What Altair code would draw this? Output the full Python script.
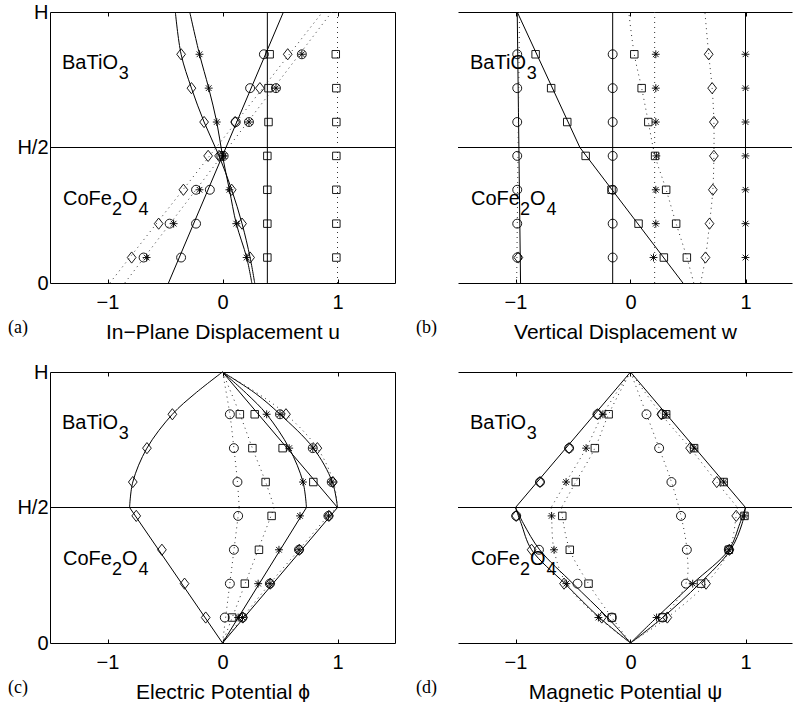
import altair as alt
import pandas as pd

FONT = "Liberation Sans"
SERIF = "Liberation Serif"
PH = 271            # plot height of every panel
UNIT = 115          # pixels per unit on x
ROWS = [0.094, 0.219, 0.344, 0.469, 0.594, 0.719, 0.844]

# ---------------- panel (a): in-plane displacement u
A_SOLID = [
    [(-0.47, 0.0), (0.53, 1.0)],
    [(0.28, 0.0), (0.24, 0.094), (0.17, 0.219), (0.08, 0.344), (-0.03, 0.469), (-0.16, 0.594), (-0.27, 0.719), (-0.36, 0.844), (-0.41, 1.0)],
    [(0.255, 0.0), (0.21, 0.094), (0.12, 0.219), (0.06, 0.344), (0.0, 0.469), (-0.05, 0.594), (-0.12, 0.719), (-0.2, 0.844), (-0.285, 1.0)],
    [(0.39, 0.0), (0.39, 1.0)],
]
A_DOTTED = [
    [(-0.85, 0.0), (0.95, 1.0)],
    [(-0.98, 0.0), (0.87, 1.0)],
    [(1.0, 0.0), (1.0, 1.0)],
]
A_CIRCLE = [[-0.36, -0.23, -0.11, -0.01, 0.115, 0.24, 0.36],
            [-0.686, -0.46, -0.23, 0.01, 0.23, 0.465, 0.69]]
A_STAR = [[0.21, 0.12, 0.06, 0.0, -0.05, -0.12, -0.2],
          [-0.66, -0.425, -0.20, 0.01, 0.23, 0.465, 0.69]]
A_DIAMOND = [[0.24, 0.17, 0.08, -0.03, -0.16, -0.27, -0.36],
             [-0.79, -0.555, -0.34, -0.125, 0.11, 0.325, 0.567]]
A_SQUARE = [[0.39, 0.39, 0.39, 0.39, 0.40, 0.40, 0.41],
            [0.99, 0.99, 0.99, 0.99, 0.99, 0.99, 0.985]]

# ---------------- panel (b): vertical displacement w
B_SOLID = [
    [(-0.956, 0.0), (-0.985, 1.0)],
    [(0.456, 0.0), (-0.44, 0.5)],
    [(-0.44, 0.5), (-0.985, 1.0)],
    [(-0.155, 0.0), (-0.155, 1.0)],
    [(1.0, 0.0), (1.0, 1.0)],
]
B_DOTTED = [
    [(-0.99, 0.0), (-0.965, 1.0)],
    [(0.55, 0.0), (0.49, 0.094), (0.397, 0.219), (0.31, 0.344), (0.214, 0.469), (0.155, 0.594), (0.097, 0.719), (0.033, 0.844), (-0.015, 1.0)],
    [(0.21, 0.0), (0.21, 1.0)],
    [(0.61, 0.0), (0.652, 0.094), (0.687, 0.219), (0.716, 0.344), (0.725, 0.469), (0.725, 0.594), (0.71, 0.719), (0.68, 0.844), (0.647, 1.0)],
]
B_CIRCLE = [[-0.985, -0.985, -0.985, -0.985, -0.985, -0.985, -0.985],
            [-0.155, -0.155, -0.155, -0.155, -0.155, -0.155, -0.155]]
B_STAR = [[0.20, 0.22, 0.22, 0.225, 0.22, 0.22, 0.22],
          [1.0, 1.0, 1.0, 1.0, 1.0, 1.0, 1.0]]
B_DIAMOND = [[0.652, 0.687, 0.716, 0.725, 0.725, 0.71, 0.68],
             [-0.975, None, None, None, None, None, None]]
B_SQUARE = [[0.29, 0.07, -0.165, -0.39, -0.55, -0.69, -0.825],
            [0.49, 0.397, 0.31, 0.214, 0.155, 0.097, 0.033]]

# ---------------- panel (c): electric potential
C_SOLID = [
    [(0.0, 1.0), (-0.24, 0.92), (-0.436, 0.844), (-0.657, 0.719), (-0.78, 0.594), (-0.808, 0.5)],
    [(-0.808, 0.5), (0.0, 0.0)],
    [(0.0, 1.0), (0.21, 0.92), (0.384, 0.844), (0.58, 0.719), (0.70, 0.594), (0.73, 0.5)],
    [(0.73, 0.5), (0.0, 0.0)],
    [(0.0, 1.0), (1.0, 0.5)],
    [(1.0, 0.5), (0.0, 0.0)],
    [(0.0, 1.0), (0.29, 0.92), (0.50, 0.844), (0.79, 0.719), (0.955, 0.594), (1.0, 0.5)],
]
C_DOTTED = [
    [(0.0, 1.0), (0.064, 0.844), (0.099, 0.719), (0.13, 0.594), (0.145, 0.5)],
    [(0.145, 0.5), (0.0, 0.0)],
    [(0.0, 1.0), (0.151, 0.844), (0.26, 0.719), (0.375, 0.594), (0.45, 0.5)],
    [(0.45, 0.5), (0.0, 0.0)],
    [(0.0, 1.0), (0.31, 0.92), (0.552, 0.844), (0.825, 0.719), (0.965, 0.594), (1.0, 0.5)],
    [(1.0, 0.5), (0.92, 0.469), (0.665, 0.344), (0.412, 0.219), (0.174, 0.094), (0.0, 0.0)],
]
C_CIRCLE = [[0.174, 0.412, 0.665, 0.921, 0.95, 0.785, 0.50],
            [0.02, 0.064, 0.099, 0.136, 0.13, 0.099, 0.064]]
C_STAR = [[0.136, 0.31, 0.491, 0.674, 0.70, 0.58, 0.384],
          [0.174, 0.412, 0.665, 0.921, 0.95, 0.785, 0.50]]
C_DIAMOND = [[-0.146, -0.33, -0.527, -0.75, -0.78, -0.657, -0.436],
             [0.177, 0.415, 0.668, 0.925, 0.96, 0.825, 0.552]]
C_SQUARE = [[None, None, None, None, 0.79, 0.523, 0.28],
            [0.084, 0.194, 0.317, 0.427, 0.375, 0.26, 0.151]]

# ---------------- panel (d): magnetic potential
D_SOLID = [
    [(0.0, 1.0), (-1.0, 0.5)],
    [(0.0, 1.0), (1.0, 0.5)],
    [(-1.0, 0.5), (-0.95, 0.44), (-0.86, 0.344), (-0.57, 0.219), (-0.27, 0.094), (0.0, 0.0)],
    [(-1.0, 0.5), (-0.93, 0.44), (-0.79, 0.344), (-0.50, 0.219), (-0.20, 0.094), (0.0, 0.0)],
    [(1.0, 0.5), (0.95, 0.44), (0.855, 0.344), (0.54, 0.219), (0.227, 0.094), (0.0, 0.0)],
    [(1.0, 0.5), (0.97, 0.44), (0.87, 0.344), (0.60, 0.219), (0.28, 0.094), (0.0, 0.0)],
]
D_DOTTED = [
    [(0.0, 1.0), (-0.24, 0.844), (-0.386, 0.719), (-0.56, 0.594), (-0.69, 0.5)],
    [(-0.69, 0.5), (-0.686, 0.469), (-0.665, 0.344), (-0.558, 0.219), (-0.279, 0.094), (0.0, 0.0)],
    [(0.0, 1.0), (-0.19, 0.844), (-0.31, 0.719), (-0.476, 0.594), (-0.6, 0.5)],
    [(-0.6, 0.5), (-0.593, 0.469), (-0.528, 0.344), (-0.365, 0.219), (-0.162, 0.094), (0.0, 0.0)],
    [(0.0, 1.0), (0.139, 0.844), (0.249, 0.719), (0.356, 0.594), (0.439, 0.469), (0.49, 0.344), (0.482, 0.219), (0.279, 0.094), (0.0, 0.0)],
    [(0.0, 1.0), (0.268, 0.844), (0.518, 0.719), (0.75, 0.594), (0.93, 0.5)],
    [(0.93, 0.5), (0.919, 0.469), (0.86, 0.344), (0.657, 0.219), (0.32, 0.094), (0.0, 0.0)],
]
D_CIRCLE = [[-0.162, -0.461, -0.796, -0.994, -0.787, -0.534, -0.287],
            [0.279, 0.482, 0.49, 0.439, 0.356, 0.249, 0.139],
            [None, None, 0.855, None, None, None, 0.276]]
D_STAR = [[-0.279, -0.558, -0.665, -0.686, -0.56, -0.386, -0.24],
          [0.227, 0.541, 0.855, 0.991, 0.81, 0.553, 0.31]]
D_DIAMOND = [[-0.25, -0.578, -0.86, -0.994, -0.787, -0.534, -0.287],
             [0.32, 0.657, 0.86, 0.919, 0.75, 0.518, 0.268]]
D_SQUARE = [[-0.162, -0.365, -0.528, -0.593, -0.476, -0.31, -0.19],
            [0.279, 0.613, 0.855, 0.991, 0.81, 0.553, 0.31]]

TITLES = ["In\u2212Plane Displacement u", "Vertical Displacement w",
          "Electric Potential \u03d5", "Magnetic Potential \u03c8"]
TAGS = ["(a)", "(b)", "(c)", "(d)"]

STAR = "M-1,0L1,0M0,-1L0,1M-0.72,-0.72L0.72,0.72M-0.72,0.72L0.72,-0.72"
DIAMOND = "M0,-1L0.78,0L0,1L-0.78,0Z"
SHAPE_STYLE = {"circle": ("circle", 80), "square": ("square", 56),
               "diamond": (DIAMOND, 125), "star": (STAR, 62)}

ONE = pd.DataFrame({"k": [0]})


def seg_df(segs):
    rows = []
    for i, seg in enumerate(segs):
        for j, (x, y) in enumerate(seg):
            rows.append({"seg": i, "k": j, "x": x, "y": y})
    return pd.DataFrame(rows)


def mark_df(series):
    rows = []
    for xs in series:
        for y, x in zip(ROWS, xs):
            if x is not None:
                rows.append({"x": x, "y": y})
    return pd.DataFrame(rows)


def txt(s, x, y, size=20, font=FONT):
    return alt.Chart(ONE).mark_text(
        text=s, align="left", baseline="alphabetic", font=font,
        fontSize=size, color="black").encode(x=alt.value(x), y=alt.value(y))


def panel(i, solid, dotted, markers, width, right_border, top_guard=False):
    xmax = -1.5 + width / UNIT
    xs = alt.Scale(domain=[-1.5, xmax], nice=False, zero=False)
    ys = alt.Scale(domain=[0, 1], nice=False, zero=False)

    ax_x_main = alt.Axis(orient="bottom", values=[-1, 0, 1], format="d", ticks=False,
                         grid=False, domain=True, domainColor="black", domainWidth=1,
                         labelFont=FONT, labelFontSize=20, labelColor="black", labelPadding=9,
                         title=TITLES[i], titleFont=FONT, titleFontSize=21,
                         titleFontWeight="normal", titleColor="black", titleY=55,
                         titleBaseline="alphabetic")
    ax_y_main = alt.Axis(orient="left", values=[0, 0.5, 1],
                         labelExpr="datum.value == 1 ? 'H' : (datum.value == 0.5 ? 'H/2' : '0')",
                         ticks=False, grid=False, domain=True, domainColor="black",
                         domainWidth=1, labelFont=FONT, labelFontSize=20,
                         labelColor="black", labelPadding=2, title=None)
    ax_x_intick_bottom = alt.Axis(orient="top", offset=-PH, values=[-1, 0, 1], domain=False,
                                  labels=False, grid=False, ticks=True, tickSize=4,
                                  tickColor="black", title=None)
    ax_x_border_top = alt.Axis(orient="top", values=[-1, 0, 1], domain=True, domainColor="black",
                               domainWidth=1, labels=False, ticks=False, grid=False, title=None)
    ax_x_intick_top = alt.Axis(orient="bottom", offset=-PH, values=[-1, 0, 1], domain=False,
                               labels=False, grid=False, ticks=True, tickSize=4,
                               tickColor="black", title=None)
    if right_border:
        ax_y_right = alt.Axis(orient="right", values=[0.5], domain=True, domainColor="black",
                              domainWidth=1, labels=False, ticks=False, grid=False, title=None)
    else:
        ax_y_right = None

    solid_layer = alt.Chart(seg_df(solid)).mark_line(
        color="black", strokeWidth=1, interpolate="catmull-rom").encode(
        x=alt.X("x:Q", scale=xs, axis=ax_x_main),
        y=alt.Y("y:Q", scale=ys, axis=ax_y_main),
        detail="seg:N", order="k:Q")

    dotted_layer = alt.Chart(seg_df(dotted)).mark_line(
        color="#333333", strokeWidth=1, strokeDash=[1, 4],
        interpolate="catmull-rom").encode(
        x=alt.X("x:Q", scale=xs, axis=ax_x_intick_bottom),
        y=alt.Y("y:Q", scale=ys, axis=None),
        detail="seg:N", order="k:Q")

    mid = alt.Chart(ONE).mark_rule(color="black", strokeWidth=1).encode(
        x=alt.X(datum=-1.5, scale=xs, axis=ax_x_intick_top),
        x2=alt.X2(datum=xmax),
        y=alt.Y(datum=0.5, scale=ys, axis=None))

    layers = [solid_layer, dotted_layer, mid]
    first = True
    for name, series in markers:
        shape, size = SHAPE_STYLE[name]
        if first:
            xa, ya = ax_x_border_top, ax_y_right
            first = False
        else:
            xa, ya = None, None
        layers.append(alt.Chart(mark_df(series)).mark_point(
            shape=shape, size=size, filled=False, color="black", strokeWidth=0.9,
            opacity=1).encode(
            x=alt.X("x:Q", scale=xs, axis=xa),
            y=alt.Y("y:Q", scale=ys, axis=ya)))

    # compound labels with subscripts
    layers += [
        txt("BaTiO", 12, 57), txt("3", 68.7, 67, 18),
        txt("CoFe", 13, 192.5), txt("2", 62, 202.5, 18),
        txt("O", 72, 192.5), txt("4", 88.5, 202.5, 18),
        txt(TAGS[i], -42, PH + 50, 18, SERIF),
    ]
    if top_guard:
        layers.append(alt.Chart(ONE).mark_rule(opacity=0, strokeWidth=1).encode(
            x=alt.value(0), x2=alt.value(10), y=alt.value(-11.5), y2=alt.value(-11.5)))

    return alt.layer(*layers).properties(width=width, height=PH)


pa = panel(0, A_SOLID, A_DOTTED,
           [("circle", A_CIRCLE), ("square", A_SQUARE), ("diamond", A_DIAMOND), ("star", A_STAR)],
           345, True, top_guard=True)
pb = panel(1, B_SOLID, B_DOTTED,
           [("circle", B_CIRCLE), ("square", B_SQUARE), ("diamond", B_DIAMOND), ("star", B_STAR)],
           334, False)
pc = panel(2, C_SOLID, C_DOTTED,
           [("circle", C_CIRCLE), ("square", C_SQUARE), ("diamond", C_DIAMOND), ("star", C_STAR)],
           345, True)
pd_ = panel(3, D_SOLID, D_DOTTED,
            [("circle", D_CIRCLE), ("square", D_SQUARE), ("diamond", D_DIAMOND), ("star", D_STAR)],
            334, False)

chart = alt.concat(pa, pb, pc, pd_, columns=2,
                   spacing={"row": 89, "column": 63}, bounds="flush").properties(
    padding={"left": 8, "top": 0, "right": 0, "bottom": 0},
    background="white",
).configure_view(strokeWidth=0)

chart.save("out.html", embed_options={"renderer": "svg", "actions": False})
